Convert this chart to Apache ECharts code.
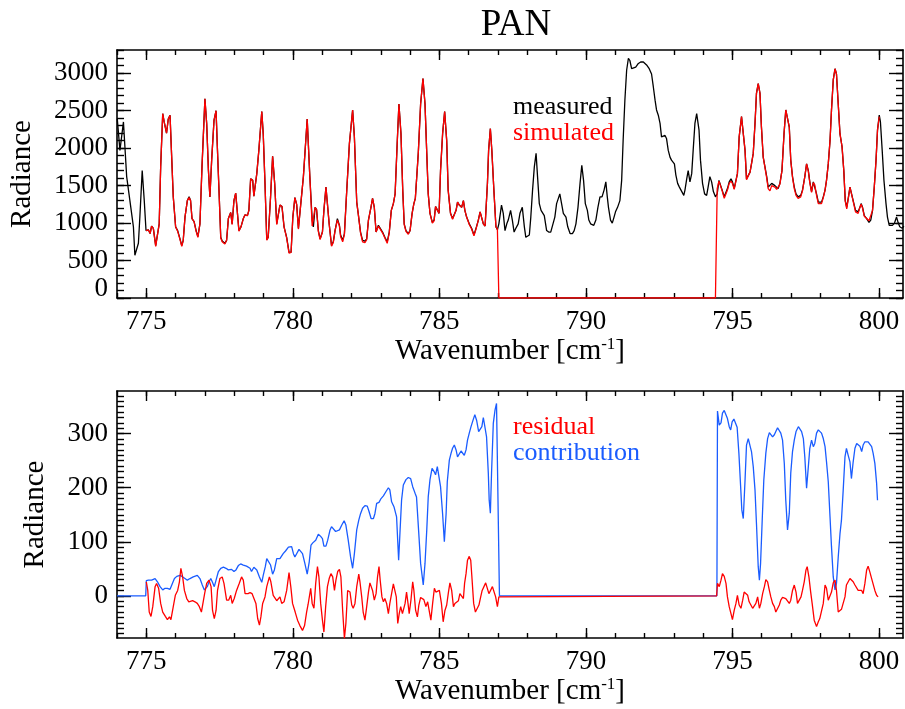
<!DOCTYPE html>
<html lang="en">
<head>
    <meta charset="UTF-8">
    <title>PAN</title>
    <script src="https://cdn.jsdelivr.net/npm/echarts@6/dist/echarts.min.js"></script>
    <style>
        body { margin: 0; background: #fff; }
    </style>
</head>
<body>
<div id="main" style="width: 905px;height:709px;"></div>
<script type="text/javascript">
    // wavenumber [cm-1], radiance
    var measured = [
        [774.01,2390],[774.10,1970],[774.16,1970],[774.22,2350],[774.33,1620],[774.44,1300],[774.56,950],[774.61,570],[774.67,560],[774.73,730],
        [774.78,1080],[774.86,1700],[774.93,1300],[774.99,900],[775.07,910],[775.13,860],[775.18,960],[775.24,930],[775.32,700],[775.38,700],
        [775.44,990],[775.49,1750],[775.56,2460],[775.61,2350],[775.69,2200],[775.75,2390],[775.81,2440],[775.87,1840],[775.92,1350],[776.00,950],
        [776.07,900],[776.15,790],[776.21,700],[776.26,770],[776.32,1080],[776.40,1300],[776.46,1350],[776.51,1300],[776.56,1060],[776.63,1020],
        [776.70,900],[776.76,820],[776.83,990],[776.90,1750],[777.00,2660],[777.06,2330],[777.12,1700],[777.17,1350],[777.23,1840],[777.31,2370],
        [777.38,2500],[777.42,2060],[777.48,1440],[777.54,810],[777.59,760],[777.68,730],[777.74,770],[777.80,1060],[777.88,1140],[777.93,990],
        [777.99,1300],[778.05,1400],[778.11,1130],[778.16,900],[778.23,950],[778.31,1060],[778.37,1110],[778.45,1100],[778.50,1170],[778.56,1590],
        [778.63,1570],[778.67,1360],[778.77,1660],[778.84,1970],[778.94,2490],[778.99,2190],[779.05,1530],[779.11,780],[779.16,810],[779.24,1350],
        [779.31,1890],[779.38,1530],[779.45,990],[779.50,970],[779.56,1240],[779.63,1220],[779.70,950],[779.79,810],[779.87,610],[779.94,610],
        [780.00,1080],[780.07,1340],[780.13,1250],[780.19,930],[780.24,910],[780.36,1620],[780.49,2390],[780.58,1620],[780.66,1040],[780.70,950],
        [780.76,1210],[780.81,1180],[780.87,900],[780.93,790],[781.01,880],[781.06,1170],[781.13,1480],[781.18,1470],[781.24,990],[781.32,700],
        [781.38,750],[781.44,900],[781.52,1060],[781.59,970],[781.63,840],[781.70,770],[781.76,860],[781.84,1440],[781.93,2060],[782.04,2510],
        [782.10,2150],[782.18,1280],[782.23,1130],[782.31,880],[782.38,770],[782.46,760],[782.52,790],[782.58,1040],[782.67,1220],[782.72,1330],
        [782.78,1210],[782.84,880],[782.92,970],[782.97,950],[783.06,880],[783.14,810],[783.22,750],[783.29,880],[783.36,1170],[783.43,1260],
        [783.49,1390],[783.56,2060],[783.62,2590],[783.69,2190],[783.75,1440],[783.80,990],[783.86,900],[783.94,860],[784.00,900],[784.07,1130],
        [784.13,1260],[784.18,1330],[784.22,1330],[784.28,1930],[784.36,2590],[784.44,2930],[784.51,2590],[784.57,1930],[784.62,1390],[784.68,1130],
        [784.76,1010],[784.82,1040],[784.87,1220],[784.93,1240],[784.99,1130],[785.04,1700],[785.11,2190],[785.18,2490],[785.25,2100],[785.30,1440],
        [785.38,1130],[785.45,1060],[785.51,1040],[785.57,1170],[785.62,1280],[785.68,1240],[785.76,1210],[785.82,1300],[785.87,1170],[785.93,1080],
        [786.02,990],[786.10,930],[786.18,840],[786.25,930],[786.33,1040],[786.39,1150],[786.44,1130],[786.50,990],[786.56,960],[786.64,1530],
        [786.68,1970],[786.74,2260],[786.79,1970],[786.86,1440],[786.93,950],[786.98,910],[787.03,990],[787.12,1240],[787.18,1130],[787.24,900],
        [787.30,990],[787.35,1040],[787.43,1170],[787.49,1040],[787.55,880],[787.61,930],[787.69,990],[787.75,1130],[787.83,1210],[787.90,950],
        [787.95,810],[788.01,790],[788.07,840],[788.12,1080],[788.18,1440],[788.24,1750],[788.30,1930],[788.35,1620],[788.41,1260],[788.47,1170],
        [788.52,1190],[788.58,1100],[788.66,900],[788.73,880],[788.80,880],[788.86,880],[788.94,1080],[789.00,1260],[789.06,1330],[789.11,1390],
        [789.17,1260],[789.23,1130],[789.32,1080],[789.38,950],[789.46,860],[789.54,860],[789.60,900],[789.66,990],[789.73,1210],[789.80,1530],
        [789.86,1770],[789.92,1570],[789.98,1260],[790.05,1170],[790.10,1040],[790.16,990],[790.22,1010],[790.27,970],[790.34,1040],[790.41,1210],
        [790.48,1350],[790.55,1350],[790.62,1440],[790.68,1550],[790.73,1350],[790.77,1210],[790.84,1040],[790.90,1000],[790.96,1080],[791.01,1150],
        [791.08,1210],[791.16,1300],[791.22,1570],[791.27,2100],[791.33,2640],[791.39,3040],[791.45,3200],[791.50,3170],[791.56,3060],[791.62,3050],
        [791.70,3080],[791.79,3130],[791.87,3150],[791.96,3150],[792.01,3130],[792.07,3110],[792.16,3060],[792.24,2990],[792.30,2820],[792.36,2640],
        [792.41,2510],[792.47,2440],[792.53,2330],[792.58,2150],[792.64,2130],[792.70,2170],[792.75,2130],[792.81,1970],[792.87,1880],[792.92,1840],
        [792.98,1840],[793.02,1790],[793.07,1640],[793.13,1530],[793.19,1480],[793.24,1460],[793.30,1400],[793.34,1370],[793.38,1440],[793.44,1590],
        [793.49,1700],[793.55,1550],[793.61,1660],[793.66,1970],[793.72,2330],[793.78,2460],[793.86,2240],[793.91,1840],[793.98,1530],[794.05,1390],
        [794.12,1370],[794.17,1480],[794.23,1620],[794.29,1550],[794.35,1420],[794.42,1350],[794.48,1390],[794.54,1570],[794.60,1550],[794.65,1440],
        [794.72,1350],[794.78,1370],[794.83,1460],[794.89,1550],[794.95,1590],[795.00,1550],[795.06,1460],[795.12,1480],[795.17,1660],[795.23,2150],
        [795.31,2420],[795.37,2420],[795.43,1970],[795.48,1590],[795.54,1570],[795.60,1680],[795.65,1790],[795.71,1930],[795.77,2330],[795.82,2730],
        [795.88,2860],[795.94,2730],[795.99,2280],[796.05,1880],[796.11,1750],[796.17,1620],[796.22,1480],[796.28,1460],[796.34,1530],[796.39,1530],
        [796.45,1500],[796.51,1480],[796.56,1460],[796.62,1530],[796.69,1700],[796.76,2190],[796.82,2510],[796.88,2510],[796.94,2280],[796.99,1840],
        [797.05,1620],[797.11,1480],[797.17,1390],[797.24,1350],[797.33,1370],[797.39,1440],[797.47,1620],[797.53,1790],[797.59,1700],[797.64,1550],
        [797.70,1420],[797.76,1550],[797.81,1530],[797.87,1390],[797.93,1280],[797.98,1260],[798.04,1280],[798.10,1350],[798.16,1440],[798.21,1570],
        [798.27,1790],[798.33,2100],[798.38,2510],[798.44,2910],[798.50,3060],[798.55,2990],[798.61,2590],[798.67,2190],[798.74,2020],[798.80,1700],
        [798.85,1300],[798.90,1210],[798.96,1350],[799.01,1480],[799.06,1480],[799.12,1300],[799.20,1170],[799.29,1150],[799.35,1210],[799.39,1260],
        [799.44,1210],[799.50,1100],[799.58,1060],[799.66,1010],[799.72,1040],[799.78,1170],[799.84,1480],[799.90,1840],[799.95,2240],[800.01,2440],
        [800.05,2350],[800.11,1970],[800.17,1570],[800.24,1260],[800.29,1080],[800.35,970],[800.41,960],[800.46,970],[800.53,1000],[800.60,1080],
        [800.66,1000],[800.71,950],[800.79,930],[800.85,960]
    ];

    var simulated = [
        [774.99,900],[775.07,910],[775.13,860],[775.18,960],[775.24,930],[775.32,690],[775.38,700],[775.44,990],[775.49,1750],[775.56,2460],
        [775.61,2350],[775.69,2200],[775.75,2390],[775.81,2440],[775.87,1840],[775.92,1350],[776.00,950],[776.07,890],[776.15,780],[776.21,690],
        [776.26,770],[776.32,1080],[776.40,1300],[776.46,1340],[776.51,1300],[776.56,1060],[776.63,1020],[776.70,890],[776.76,810],[776.83,990],
        [776.90,1750],[777.00,2660],[777.06,2330],[777.12,1700],[777.17,1350],[777.23,1840],[777.31,2370],[777.38,2500],[777.42,2060],[777.48,1440],
        [777.54,800],[777.59,750],[777.68,720],[777.74,770],[777.80,1060],[777.88,1140],[777.93,980],[777.99,1300],[778.05,1400],[778.11,1130],
        [778.16,890],[778.23,950],[778.31,1060],[778.37,1110],[778.45,1100],[778.50,1170],[778.56,1590],[778.63,1570],[778.67,1360],[778.77,1660],
        [778.84,1970],[778.94,2490],[778.99,2190],[779.05,1530],[779.11,770],[779.16,810],[779.24,1350],[779.31,1890],[779.38,1530],[779.45,980],
        [779.50,960],[779.56,1240],[779.63,1220],[779.70,950],[779.79,800],[779.87,600],[779.94,610],[780.00,1080],[780.07,1340],[780.13,1250],
        [780.19,920],[780.24,910],[780.36,1620],[780.49,2390],[780.58,1620],[780.66,960],[780.70,940],[780.76,1210],[780.81,1180],[780.87,890],
        [780.93,780],[781.01,880],[781.06,1170],[781.13,1480],[781.18,1470],[781.24,990],[781.32,690],[781.38,740],[781.44,900],[781.52,1040],
        [781.59,960],[781.63,820],[781.70,750],[781.76,850],[781.84,1440],[781.93,2060],[782.04,2510],[782.10,2150],[782.18,1280],[782.23,1130],
        [782.31,870],[782.38,750],[782.46,740],[782.52,780],[782.58,1040],[782.67,1220],[782.72,1330],[782.78,1210],[782.84,880],[782.92,960],
        [782.97,940],[783.06,870],[783.14,800],[783.22,730],[783.29,870],[783.36,1170],[783.43,1260],[783.49,1390],[783.56,2060],[783.62,2590],
        [783.69,2190],[783.75,1440],[783.80,980],[783.86,890],[783.94,850],[784.00,900],[784.07,1130],[784.13,1260],[784.18,1330],[784.22,1330],
        [784.28,1930],[784.36,2590],[784.44,2930],[784.51,2590],[784.57,1930],[784.62,1390],[784.68,1130],[784.76,1000],[784.82,1030],[784.87,1220],
        [784.93,1240],[784.99,1130],[785.04,1700],[785.11,2190],[785.18,2490],[785.25,2100],[785.30,1440],[785.38,1130],[785.45,1050],[785.51,1030],
        [785.57,1170],[785.62,1280],[785.68,1240],[785.76,1210],[785.82,1300],[785.87,1170],[785.93,1080],[786.02,980],[786.10,920],[786.18,830],
        [786.25,920],[786.33,1040],[786.39,1150],[786.44,1130],[786.50,990],[786.56,960],[786.64,1530],[786.68,1970],[786.74,2260],[786.79,1970],
        [786.86,1440],[786.93,950],[786.98,920],[787.03,0],[794.42,0],[794.48,1460],[794.54,1560],[794.60,1540],[794.65,1430],[794.72,1330],
        [794.78,1350],[794.83,1440],[794.89,1530],[794.95,1560],[795.00,1530],[795.06,1450],[795.12,1470],[795.17,1660],[795.23,2150],[795.31,2420],
        [795.37,2420],[795.43,1970],[795.48,1580],[795.54,1560],[795.60,1680],[795.65,1790],[795.71,1930],[795.77,2330],[795.82,2730],[795.88,2860],
        [795.94,2730],[795.99,2280],[796.05,1880],[796.11,1740],[796.17,1600],[796.22,1460],[796.28,1430],[796.34,1500],[796.39,1510],[796.45,1480],
        [796.51,1450],[796.56,1430],[796.62,1520],[796.69,1700],[796.76,2190],[796.82,2510],[796.88,2510],[796.94,2280],[796.99,1840],[797.05,1610],
        [797.11,1460],[797.17,1370],[797.24,1330],[797.33,1350],[797.39,1430],[797.47,1620],[797.53,1790],[797.59,1690],[797.64,1540],[797.70,1410],
        [797.76,1540],[797.81,1510],[797.87,1370],[797.93,1260],[797.98,1240],[798.04,1260],[798.10,1340],[798.16,1440],[798.21,1570],[798.27,1790],
        [798.33,2100],[798.38,2510],[798.44,2910],[798.50,3060],[798.55,2990],[798.61,2590],[798.67,2190],[798.74,2020],[798.80,1700],[798.85,1290],
        [798.90,1190],[798.96,1350],[799.01,1480],[799.06,1460],[799.12,1290],[799.20,1150],[799.29,1130],[799.35,1210],[799.39,1250],[799.44,1200],
        [799.50,1090],[799.58,1060],[799.66,1030],[799.72,1050],[799.78,1170],[799.84,1480],[799.90,1840],[799.95,2240],[800.01,2420]
    ];

    var residual = [
        [775.00,26],[775.05,10],[775.10,-30],[775.16,-38],[775.22,-20],[775.30,17],[775.35,23],[775.42,14],[775.49,-14],[775.56,-30],
        [775.65,-38],[775.72,-44],[775.79,-39],[775.84,-44],[775.92,-20],[775.99,1],[776.07,10],[776.13,26],[776.18,51],[776.24,35],
        [776.30,10],[776.38,-5],[776.45,-11],[776.51,-8],[776.58,-9],[776.66,-11],[776.74,-14],[776.81,-20],[776.88,-30],[776.93,-27],
        [776.99,4],[777.06,23],[777.14,29],[777.21,17],[777.26,-27],[777.32,-42],[777.38,-27],[777.43,10],[777.51,32],[777.59,35],
        [777.65,23],[777.74,-8],[777.81,-8],[777.88,1],[777.93,-14],[778.00,-5],[778.08,10],[778.17,23],[778.25,35],[778.31,29],
        [778.37,4],[778.42,7],[778.47,4],[778.54,6],[778.61,4],[778.67,4],[778.74,-14],[778.80,-42],[778.86,-54],[778.91,-39],
        [778.97,-14],[779.05,-2],[779.11,17],[779.20,35],[779.25,26],[779.33,1],[779.39,4],[779.45,-9],[779.50,-9],[779.56,-2],
        [779.62,-14],[779.70,-11],[779.79,10],[779.87,43],[779.93,17],[779.99,-14],[780.08,-30],[780.16,-45],[780.24,-55],[780.33,-64],
        [780.40,-55],[780.47,-30],[780.52,-16],[780.56,-14],[780.61,14],[780.66,-14],[780.72,-23],[780.78,23],[780.84,54],[780.89,35],
        [780.95,-14],[781.01,-45],[781.06,-67],[781.12,-20],[781.18,17],[781.24,32],[781.30,41],[781.36,35],[781.42,10],[781.47,29],
        [781.53,45],[781.59,49],[781.64,35],[781.70,-27],[781.76,-79],[781.81,-51],[781.87,10],[781.95,7],[782.01,-17],[782.06,-23],
        [782.12,-14],[782.18,17],[782.25,40],[782.29,26],[782.35,-2],[782.40,-30],[782.46,-45],[782.52,-20],[782.58,7],[782.63,24],
        [782.68,26],[782.72,10],[782.78,-8],[782.84,4],[782.89,35],[782.94,54],[782.98,29],[783.04,-2],[783.09,-11],[783.14,-5],
        [783.20,-14],[783.26,-33],[783.31,-14],[783.37,4],[783.43,22],[783.47,24],[783.53,-2],[783.58,-51],[783.63,-33],[783.68,-20],
        [783.74,-33],[783.78,-30],[783.83,-14],[783.88,7],[783.93,-14],[783.97,-33],[784.03,-8],[784.09,26],[784.13,10],[784.19,-27],
        [784.25,-39],[784.30,-17],[784.36,-3],[784.42,-5],[784.47,-7],[784.54,-20],[784.60,-11],[784.64,-8],[784.71,-45],[784.77,-14],
        [784.83,14],[784.88,7],[784.94,4],[785.00,10],[785.07,-14],[785.13,-48],[785.19,-27],[785.25,-17],[785.31,7],[785.36,24],
        [785.42,10],[785.48,-20],[785.53,-14],[785.59,-11],[785.65,-9],[785.70,4],[785.76,1],[785.82,-5],[785.86,23],[785.91,41],
        [785.96,66],[786.02,73],[786.07,66],[786.11,35],[786.17,-14],[786.23,-30],[786.29,-27],[786.35,-17],[786.41,-2],[786.46,10],
        [786.52,7],[786.58,24],[786.64,23],[786.69,4],[786.75,4],[786.81,17],[786.86,20],[786.92,-2],[786.98,-20],[787.03,-2],
        [787.05,0],[794.46,0],[794.49,23],[794.55,17],[794.61,29],[794.66,41],[794.72,36],[794.78,23],[794.83,-2],[794.89,-20],
        [794.95,-33],[795.00,-44],[795.06,-27],[795.12,-14],[795.17,1],[795.23,-17],[795.29,-23],[795.35,-8],[795.40,7],[795.46,9],
        [795.52,1],[795.57,-11],[795.63,-17],[795.69,-23],[795.74,-20],[795.80,-14],[795.86,-2],[795.92,-23],[795.97,-14],[796.03,4],
        [796.09,17],[796.14,30],[796.20,26],[796.26,10],[796.31,-2],[796.37,-14],[796.43,-20],[796.48,-30],[796.54,-33],[796.60,-17],
        [796.65,-8],[796.71,-3],[796.77,-2],[796.82,-5],[796.88,-5],[796.94,-14],[796.99,-8],[797.05,10],[797.11,20],[797.17,7],
        [797.22,-14],[797.28,-11],[797.34,-2],[797.39,10],[797.45,26],[797.51,48],[797.55,54],[797.61,35],[797.67,7],[797.72,-14],
        [797.79,-45],[797.87,-57],[797.93,-48],[797.98,-42],[798.04,-42],[798.10,-14],[798.16,20],[798.21,14],[798.27,-8],[798.33,-5],
        [798.38,7],[798.44,24],[798.50,29],[798.55,10],[798.61,-30],[798.67,-27],[798.72,-25],[798.78,-23],[798.84,-2],[798.89,20],
        [798.95,17],[799.01,32],[799.06,29],[799.12,26],[799.18,20],[799.24,17],[799.29,10],[799.35,7],[799.41,10],[799.46,4],
        [799.52,23],[799.58,48],[799.63,55],[799.69,44],[799.75,32],[799.80,29],[799.86,10],[799.92,1],[799.97,-2]
    ];

    var contribution = [
        [774.00,0],[774.98,0],[775.00,28],[775.07,29],[775.18,29],[775.30,32],[775.38,26],[775.47,17],[775.56,11],[775.64,14],
        [775.72,14],[775.81,12],[775.89,23],[775.96,32],[776.04,36],[776.15,38],[776.24,35],[776.32,32],[776.40,29],[776.49,32],
        [776.60,35],[776.74,38],[776.83,32],[776.91,20],[776.98,11],[777.04,9],[777.08,17],[777.14,26],[777.20,32],[777.25,26],
        [777.32,17],[777.38,29],[777.46,45],[777.54,51],[777.63,53],[777.72,51],[777.80,48],[777.86,46],[777.91,49],[777.99,45],
        [778.06,48],[778.14,56],[778.22,59],[778.31,57],[778.42,55],[778.54,51],[778.59,45],[778.67,53],[778.77,48],[778.86,35],
        [778.94,25],[778.99,38],[779.06,54],[779.11,69],[779.17,69],[779.24,57],[779.31,40],[779.37,48],[779.45,69],[779.50,72],
        [779.56,69],[779.62,72],[779.67,78],[779.75,83],[779.85,90],[779.90,92],[779.96,91],[780.02,78],[780.07,72],[780.13,78],
        [780.21,86],[780.27,86],[780.33,78],[780.41,60],[780.49,40],[780.56,63],[780.62,94],[780.68,98],[780.72,96],[780.78,103],
        [780.87,114],[780.95,110],[781.01,106],[781.06,92],[781.13,92],[781.19,103],[781.27,122],[781.32,128],[781.38,125],[781.46,119],
        [781.52,117],[781.59,122],[781.67,131],[781.75,139],[781.81,131],[781.89,103],[781.97,72],[782.04,51],[782.10,78],[782.18,122],
        [782.25,140],[782.31,152],[782.38,162],[782.46,167],[782.54,166],[782.60,156],[782.67,143],[782.75,143],[782.80,152],[782.86,171],
        [782.94,173],[783.01,180],[783.09,185],[783.18,193],[783.26,200],[783.31,196],[783.37,174],[783.45,165],[783.54,146],[783.61,66],
        [783.66,122],[783.71,177],[783.77,205],[783.86,215],[783.94,219],[784.02,217],[784.09,202],[784.17,190],[784.22,183],[784.29,122],
        [784.36,60],[784.45,20],[784.51,60],[784.57,122],[784.62,183],[784.68,215],[784.75,236],[784.82,230],[784.87,224],[784.93,239],
        [784.99,240],[785.04,202],[785.11,152],[785.17,100],[785.23,152],[785.27,211],[785.34,251],[785.40,264],[785.45,273],[785.51,279],
        [785.57,270],[785.62,257],[785.68,260],[785.74,268],[785.79,267],[785.85,260],[785.91,270],[785.96,288],[786.02,301],[786.08,313],
        [786.16,327],[786.21,335],[786.27,325],[786.34,304],[786.40,304],[786.45,313],[786.50,330],[786.56,331],[786.61,294],[786.67,227],
        [786.70,177],[786.74,153],[786.78,227],[786.84,319],[786.90,344],[786.95,356],[787.00,359],[787.05,0],[794.47,0],[794.49,342],
        [794.55,316],[794.61,320],[794.66,338],[794.72,343],[794.78,341],[794.83,328],[794.89,313],[794.94,307],[794.99,322],[795.05,327],
        [795.11,324],[795.16,312],[795.22,264],[795.28,202],[795.32,159],[795.37,143],[795.43,214],[795.48,279],[795.54,291],[795.60,288],
        [795.65,267],[795.71,239],[795.77,196],[795.82,134],[795.88,54],[795.92,29],[795.96,60],[796.02,146],[796.07,214],[796.14,264],
        [796.20,291],[796.26,302],[796.31,301],[796.37,294],[796.43,298],[796.48,304],[796.54,311],[796.60,308],[796.65,301],[796.71,288],
        [796.77,245],[796.82,177],[796.88,122],[796.94,153],[796.99,227],[797.05,267],[797.11,288],[797.17,304],[797.25,313],[797.30,310],
        [797.36,304],[797.42,291],[797.47,257],[797.53,199],[797.59,239],[797.64,273],[797.70,288],[797.76,276],[797.81,282],[797.87,301],
        [797.93,307],[797.98,306],[798.04,301],[798.10,291],[798.16,276],[798.21,248],[798.27,211],[798.33,146],[798.38,91],[798.44,35],
        [798.50,11],[798.55,23],[798.61,72],[798.67,115],[798.72,140],[798.78,196],[798.84,257],[798.89,273],[798.95,260],[799.01,248],
        [799.06,217],[799.12,248],[799.18,273],[799.24,282],[799.29,282],[799.35,277],[799.41,267],[799.46,279],[799.52,285],[799.58,287],
        [799.63,285],[799.69,282],[799.75,276],[799.80,264],[799.86,245],[799.92,208],[799.95,177]
    ];

    // axis ticks and labels
    var xMajor = [775, 780, 785, 790, 795, 800];
    var xMinor = [774, 775, 776, 777, 778, 779, 780, 781, 782, 783, 784, 785, 786, 787,
                  788, 789, 790, 791, 792, 793, 794, 795, 796, 797, 798, 799, 800];
    var topMajor = [0, 500, 1000, 1500, 2000, 2500, 3000];
    var botMajor = [0, 100, 200, 300];
    var topMinor = [];
    for (var v = 0; v <= 3300; v += 100) topMinor.push(v);
    var botMinor = [];
    for (var w = -70; w <= 370; w += 10) botMinor.push(w);

    var FONT = 'Liberation Serif';
    var xRange = [774, 800.82];
    var topRange = [0, 3310];
    var botRange = [-78, 379];

    var chart = echarts.init(document.getElementById('main'));

    function xAxes(grid) {
        var list = [];
        [['bottom', true], ['top', false]].forEach(function (p) {
            [[xMajor, 10], [xMinor, 5]].forEach(function (t, k) {
                var showLab = p[1] && k === 0;
                list.push({
                    type: 'value', gridIndex: grid, position: p[0],
                    min: xRange[0], max: xRange[1],
                    axisLine: { show: k === 0, onZero: false, lineStyle: { color: '#000', width: 1.6 } },
                    axisTick: { inside: true, length: t[1], customValues: t[0], lineStyle: { color: '#000', width: 1.4 } },
                    axisLabel: {
                        show: showLab, customValues: xMajor, margin: 10,
                        fontFamily: FONT, fontSize: 27, color: '#000',
                        formatter: function (val) { return String(val); }
                    },
                    splitLine: { show: false },
                    name: showLab ? 'Wavenumber [cm{sup|-1}]' : '',
                    nameLocation: 'middle', nameGap: 37,
                    nameTextStyle: {
                        fontFamily: FONT, fontSize: 29, color: '#000',
                        rich: { sup: { fontFamily: FONT, fontSize: 17, color: '#000', padding: [0, 0, 14, 0] } }
                    }
                });
            });
        });
        return list;
    }

    // lowLabel: in the upper panel the "0" label is raised to sit just above the axis line,
    // so it is drawn by the minor-tick axis to keep it apart from the other labels
    function yAxes(grid, range, major, minor, gap, lowLabel) {
        var list = [];
        [['left', true], ['right', false]].forEach(function (p) {
            [[major, 14], [minor, 7]].forEach(function (t, k) {
                var labVals = null;
                if (p[1] && k === 0) labVals = lowLabel ? major.slice(1) : major;
                if (p[1] && k === 1 && lowLabel) labVals = [major[0]];
                list.push({
                    type: 'value', gridIndex: grid, position: p[0],
                    min: range[0], max: range[1],
                    axisLine: { show: k === 0, onZero: false, lineStyle: { color: '#000', width: 1.6 } },
                    axisTick: { inside: true, length: t[1], customValues: t[0], lineStyle: { color: '#000', width: 1.4 } },
                    axisLabel: {
                        show: !!labVals, customValues: labVals || major, margin: 9,
                        fontFamily: FONT, fontSize: 27, color: '#000',
                        formatter: function (val) {
                            return k === 1 ? '{z|' + val + '}' : String(val);
                        },
                        rich: { z: { fontFamily: FONT, fontSize: 27, color: '#000', padding: [0, 0, 18, 0] } }
                    },
                    splitLine: { show: false },
                    name: (p[1] && k === 0) ? 'Radiance' : '',
                    nameLocation: 'middle', nameGap: gap, nameRotate: 90,
                    nameTextStyle: { fontFamily: FONT, fontSize: 29, color: '#000' }
                });
            });
        });
        return list;
    }

    var option = {
        animation: false,
        backgroundColor: '#fff',
        title: {
            text: 'PAN', left: 511, top: 2, textAlign: 'center',
            textStyle: { fontFamily: FONT, fontSize: 37, fontWeight: 'normal', color: '#000' }
        },
        legend: [{
            orient: 'vertical', left: 502, top: 89, itemGap: 0, itemWidth: 0, itemHeight: 0,
            selectedMode: false,
            textStyle: { fontFamily: FONT, fontSize: 26, lineHeight: 24 },
            data: [
                { name: 'measured', textStyle: { color: '#000' } },
                { name: 'simulated', textStyle: { color: '#ff0000' } }
            ]
        }, {
            orient: 'vertical', left: 502, top: 409, itemGap: 0, itemWidth: 0, itemHeight: 0,
            selectedMode: false,
            textStyle: { fontFamily: FONT, fontSize: 26, lineHeight: 24 },
            data: [
                { name: 'residual', textStyle: { color: '#ff0000' } },
                { name: 'contribution', textStyle: { color: '#1a5cff' } }
            ]
        }],
        grid: [
            { left: 117, top: 50, width: 786, height: 248 },
            { left: 117, top: 391, width: 786, height: 247 }
        ],
        xAxis: xAxes(0).concat(xAxes(1)),
        yAxis: yAxes(0, topRange, topMajor, topMinor, 80, true).concat(yAxes(1, botRange, botMajor, botMinor, 67, false)),
        series: [{
            name: 'measured', type: 'line', xAxisIndex: 0, yAxisIndex: 0,
            showSymbol: false, symbol: 'none', color: '#000',
            lineStyle: { color: '#000', width: 1.3 },
            data: measured
        }, {
            name: 'simulated', type: 'line', xAxisIndex: 0, yAxisIndex: 0,
            showSymbol: false, symbol: 'none', color: '#ff0000',
            lineStyle: { color: '#ff0000', width: 1.3 },
            data: simulated
        }, {
            name: 'contribution', type: 'line', xAxisIndex: 4, yAxisIndex: 4,
            showSymbol: false, symbol: 'none', color: '#1a5cff',
            lineStyle: { color: '#1a5cff', width: 1.3 },
            data: contribution
        }, {
            name: 'residual', type: 'line', xAxisIndex: 4, yAxisIndex: 4,
            showSymbol: false, symbol: 'none', color: '#ff0000',
            lineStyle: { color: '#ff0000', width: 1.3 },
            data: residual
        }]
    };

    chart.setOption(option);
</script>
</body>
</html>
